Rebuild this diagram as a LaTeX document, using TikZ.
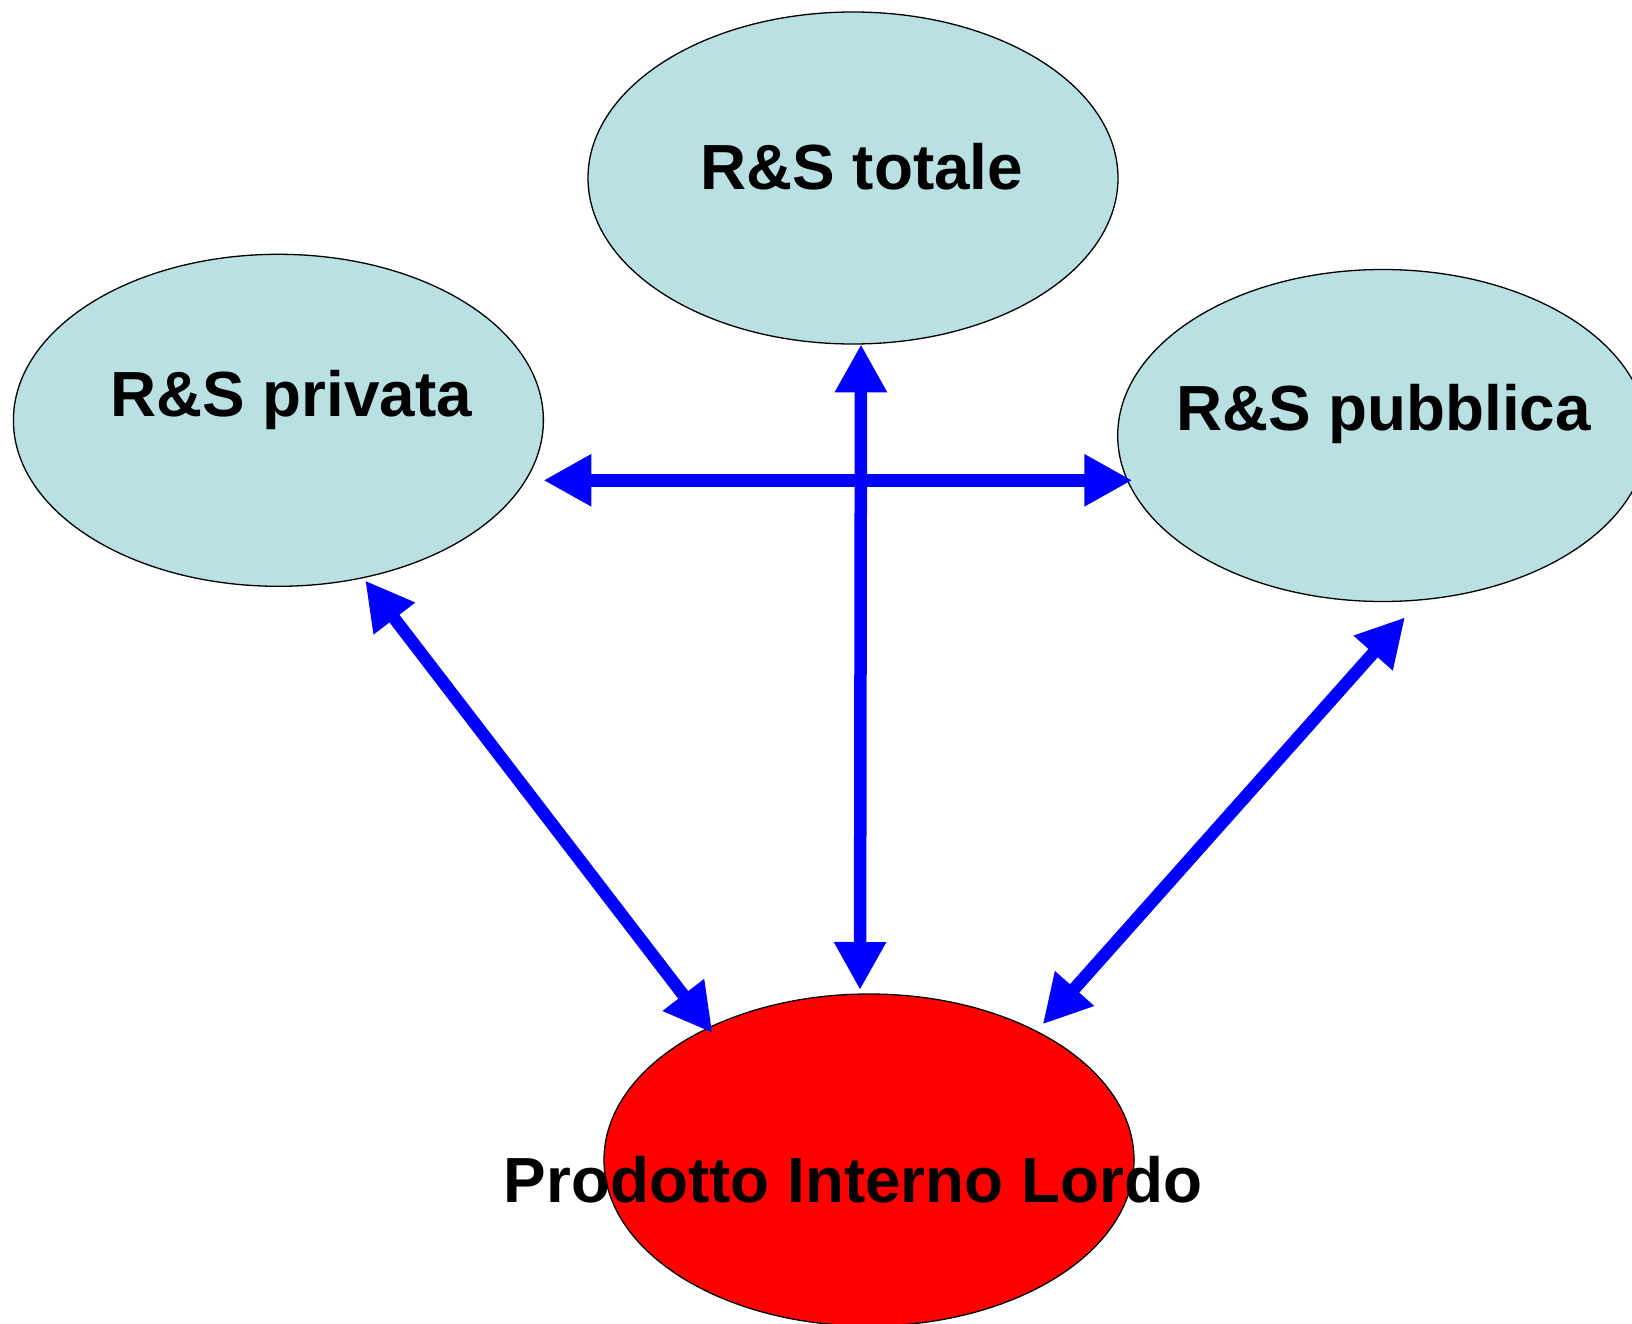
\documentclass[tikz,border=0pt]{standalone}
\usepackage{fontspec}
\setmainfont{Liberation Sans}
\usetikzlibrary{shapes.geometric,arrows.meta}
\definecolor{lightcyan}{RGB}{185,224,227}
\definecolor{pure blue}{RGB}{0,0,255}
\definecolor{pure red}{RGB}{255,0,0}
\tikzset{
  oval/.style={ellipse, draw=black, line width=1.3pt, inner sep=0pt,
    minimum width=530pt, minimum height=332pt},
  blueoval/.style={oval, fill=lightcyan},
  redoval/.style={oval, fill=pure red},
  lbl/.style={anchor=base, inner sep=0pt, font=\fontsize{63.8pt}{70pt}\selectfont\bfseries},
  link/.style={draw=pure blue, line width=12.5pt,
    {Triangle[length=48pt,width=49pt]}-{Triangle[length=48pt,width=49pt]}}
}
\begin{document}
\begin{tikzpicture}[x=1pt,y=-1pt]
\useasboundingbox (0,0) rectangle (1632,1324);
\clip (0,0) rectangle (1632,1324);
% ellipses
\node[blueoval] (tot)  at (853,178) {};
\node[blueoval] (priv) at (278.4,420.3) {};
\node[blueoval] (pub)  at (1382.7,435.5) {};
\node[redoval]  (pil)  at (869,1160) {};
% connector end points
\coordinate (vtop) at (861,344.3);
\coordinate (vbot) at (860,990);
\coordinate (hleft) at (543.4,480.3);
\coordinate (hright) at (1132.3,480.3);
\coordinate (ltop) at (365.2,580.5);
\coordinate (lbot) at (712.5,1033);
\coordinate (rtop) at (1405,617.3);
\coordinate (rbot) at (1042.7,1024.3);
% connectors
\draw[link] (vtop) -- (vbot);
\draw[link] (hleft) -- (hright);
\draw[link] (ltop) -- (lbot);
\draw[link] (rtop) -- (rbot);
% labels
\node[lbl] (ttot)  at (861.7,190) {R\&S totale};
\node[lbl] (tpriv) at (291,416.7) {R\&S privata};
\node[lbl] (tpub)  at (1383.5,430.3) {R\&S pubblica};
\node[lbl] (tpil)  at (853,1202.7) {Prodotto Interno Lordo};
\end{tikzpicture}
\end{document}
